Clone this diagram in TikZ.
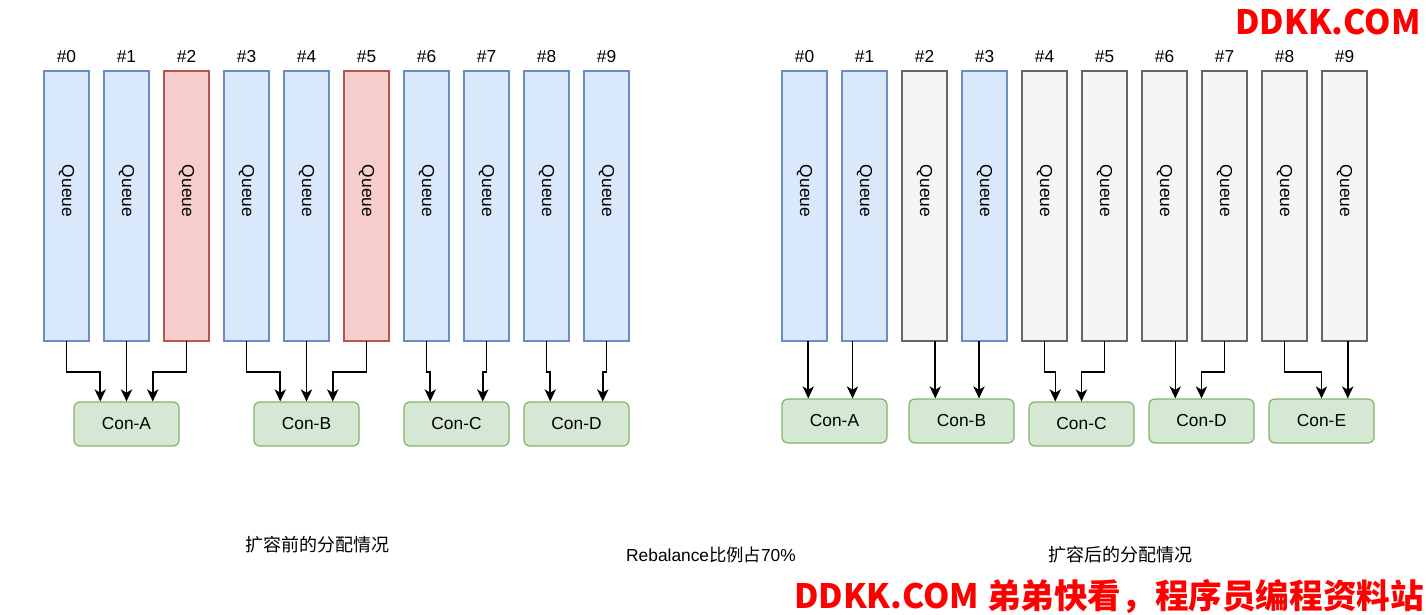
\documentclass[tikz,border=0pt]{standalone}
\usepackage{fontspec}
\setmainfont{Liberation Sans}
\newfontfamily\cjk{Noto Sans CJK SC}
\usetikzlibrary{positioning}
\usetikzlibrary{arrows.meta}
\usetikzlibrary{calc}
\definecolor{qblue}{HTML}{6C8EBF}
\definecolor{qbluefill}{HTML}{DAE8FC}
\definecolor{qred}{HTML}{B85450}
\definecolor{qredfill}{HTML}{F8CECC}
\definecolor{qgray}{HTML}{666666}
\definecolor{qgrayfill}{HTML}{F5F5F5}
\definecolor{cgreen}{HTML}{82B366}
\definecolor{cgreenfill}{HTML}{D5E8D4}
\definecolor{brandred}{HTML}{FF0000}
\tikzset{node distance=45pt, % Distance between two queue centres (60px).
label distance=2.6pt,
every label/.append style={font=\fontsize{13}{15}\selectfont},
queue/.style={ % Sets the properties for each queue
draw=qblue, fill=qbluefill,
line width=0.9pt,
minimum width=33.75pt, minimum height=202.5pt,
inner sep=0pt, outer sep=0pt,
label={[yshift=11.25pt, rotate=-90]center:Queue}},
hot/.style={queue, draw=qred, fill=qredfill}, % Queues moved before scaling out
moved/.style={queue, draw=qgray, fill=qgrayfill}, % Queues moved after scaling out
consumer/.style={ % Sets the properties for each consumer
draw=cgreen, fill=cgreenfill,
line width=0.9pt,
rounded corners=4.5pt,
minimum width=78.75pt, minimum height=33pt,
font=\fontsize{13}{15}\selectfont},
flow/.style={ % Queue to consumer
line width=1.15pt,
-{Stealth[length=9pt, width=8.5pt, inset=2.5pt]}},
caption/.style={font=\cjk\fontsize{13.5}{16}\selectfont},
brand/.style={text=brandred, font=\cjk\bfseries\fontsize{25.2}{30}\selectfont}}

\begin{document}
\begin{tikzpicture}[x=0.75pt, y=-0.75pt]
\useasboundingbox (0,0) rectangle (1426,614);
% before scaling out
\node[queue, label=above:\#0] (q0) at (66.5,206) {};
\node[queue, label=above:\#1, right of=q0] (q1) {};
\node[hot, label=above:\#2, right of=q1] (q2) {};
\node[queue, label=above:\#3, right of=q2] (q3) {};
\node[queue, label=above:\#4, right of=q3] (q4) {};
\node[hot, label=above:\#5, right of=q4] (q5) {};
\node[queue, label=above:\#6, right of=q5] (q6) {};
\node[queue, label=above:\#7, right of=q6] (q7) {};
\node[queue, label=above:\#8, right of=q7] (q8) {};
\node[queue, label=above:\#9, right of=q8] (q9) {};
\node[consumer] (lA) at (126.5,424) {Con-A};
\node[consumer] (lB) at (306.5,424) {Con-B};
\node[consumer] (lC) at (456.5,424) {Con-C};
\node[consumer] (lD) at (576.5,424) {Con-D};
\draw[flow] (q0.south) -- ++(0,31) -| ($(lA.north)+(-26.25,0)$);
\draw[flow] (q1) -- (lA);
\draw[flow] (q2.south) -- ++(0,31) -| ($(lA.north)+(26.25,0)$);
\draw[flow] (q3.south) -- ++(0,31) -| ($(lB.north)+(-26.25,0)$);
\draw[flow] (q4) -- (lB);
\draw[flow] (q5.south) -- ++(0,31) -| ($(lB.north)+(26.25,0)$);
\draw[flow] (q6.south) -- ++(0,31) -| ($(lC.north)+(-26.25,0)$);
\draw[flow] (q7.south) -- ++(0,31) -| ($(lC.north)+(26.25,0)$);
\draw[flow] (q8.south) -- ++(0,31) -| ($(lD.north)+(-26.25,0)$);
\draw[flow] (q9.south) -- ++(0,31) -| ($(lD.north)+(26.25,0)$);
% after scaling out
\node[queue, label=above:\#0] (r0) at (804.5,206) {};
\node[queue, label=above:\#1, right of=r0] (r1) {};
\node[moved, label=above:\#2, right of=r1] (r2) {};
\node[queue, label=above:\#3, right of=r2] (r3) {};
\node[moved, label=above:\#4, right of=r3] (r4) {};
\node[moved, label=above:\#5, right of=r4] (r5) {};
\node[moved, label=above:\#6, right of=r5] (r6) {};
\node[moved, label=above:\#7, right of=r6] (r7) {};
\node[moved, label=above:\#8, right of=r7] (r8) {};
\node[moved, label=above:\#9, right of=r8] (r9) {};
\node[consumer] (rA) at (834.5,421) {Con-A};
\node[consumer] (rB) at (961.5,421) {Con-B};
\node[consumer] (rC) at (1081.5,424) {Con-C};
\node[consumer] (rD) at (1201.5,421) {Con-D};
\node[consumer] (rE) at (1321.5,421) {Con-E};
\coordinate (rA1) at ($(rA.north)+(-26.25,0)$);
\coordinate (rA2) at ($(rA.north)+(18,0)$);
\coordinate (rB1) at ($(rB.north)+(-26.25,0)$);
\coordinate (rB2) at ($(rB.north)+(17.5,0)$);
\coordinate (rD1) at ($(rD.north)+(-26.25,0)$);
\coordinate (rE2) at ($(rE.north)+(26.25,0)$);
\draw[flow] (r0.south -| rA1) -- (rA1);
\draw[flow] (r1.south -| rA2) -- (rA2);
\draw[flow] (r2.south -| rB1) -- (rB1);
\draw[flow] (r3.south -| rB2) -- (rB2);
\draw[flow] (r4.south) -- ++(0,31) -| ($(rC.north)+(-26.25,0)$);
\draw[flow] (r5.south) -- ++(0,31) -| (rC.north);
\draw[flow] (r6.south -| rD1) -- (rD1);
\draw[flow] (r7.south) -- ++(0,31) -| (rD.north);
\draw[flow] (r8.south) -- ++(0,31) -| (rE.north);
\draw[flow] (r9.south -| rE2) -- (rE2);
% captions
\node[caption] (before) at (317,545) {扩容前的分配情况};
\node[font=\fontsize{13}{15}\selectfont] (ratio) at (711,555) {Rebalance{\cjk 比例占}70\%};
\node[caption] (after) at (1120,555) {扩容后的分配情况};
\node[brand] (site) at (1328,22) {DDKK.COM};
\node[brand] (slogan) at (1109,597) {DDKK.COM 弟弟快看，程序员编程资料站};
\end{tikzpicture}
\end{document}
